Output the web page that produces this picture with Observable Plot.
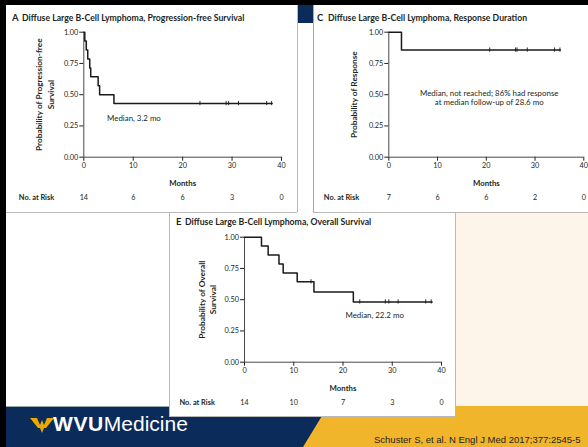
<!DOCTYPE html>
<html><head><meta charset="utf-8">
<script src="https://cdn.jsdelivr.net/npm/d3@7"></script>
<script src="https://cdn.jsdelivr.net/npm/@observablehq/plot@0.6"></script>
<style>
html,body{margin:0;padding:0;background:#fff;}
#page{position:relative;width:588px;height:447px;overflow:hidden;background:#fff;font-family:Lato,sans-serif;color:#231f20;}
.abs{position:absolute;}
.ttl{position:absolute;font-weight:700;font-size:8.7px;line-height:10px;white-space:nowrap;}
.ltr{position:absolute;font-weight:700;font-size:9.5px;line-height:10px;}
.plot{position:absolute;}
</style></head><body><div id="page"></div>
<script>
// ---- data ----
const monthTicks = [0, 10, 20, 30, 40];
const probTicks = [0, 0.25, 0.5, 0.75, 1];

// A: progression-free survival
const pfsTimes = [0, 0.2, 0.5, 0.8, 1.2, 1.4, 2.9, 3.2, 6.1, 38.1];
const pfsSurv  = [1, 0.929, 0.857, 0.786, 0.714, 0.643, 0.571, 0.5, 0.429, 0.429];
const pfsCensor = [23.5, 28.8, 29.3, 31.3, 37.0, 38.0];
const pfsRisk = [14, 6, 6, 3, 0];

// C: response duration
const respTimes = [0, 2.6, 35.2];
const respSurv  = [1, 0.857, 0.857];
const respCensor = [20.7, 26.0, 26.3, 28.4, 34.0, 35.1];
const respRisk = [7, 6, 6, 2, 0];

// E: overall survival
const osTimes = [0, 3.45, 4.8, 7.0, 7.85, 10.7, 14.1, 22.1, 38.1];
const osSurv  = [1, 0.929, 0.857, 0.786, 0.714, 0.643, 0.5625, 0.482, 0.482];
const osCensor = [13.5, 23.4, 28.6, 29.3, 31.2, 36.8, 37.9];
const osRisk = [14, 10, 7, 3, 0];

const titles = {
  A: "Diffuse Large B-Cell Lymphoma, Progression-free Survival",
  C: "Diffuse Large B-Cell Lymphoma, Response Duration",
  E: "Diffuse Large B-Cell Lymphoma, Overall Survival"
};
const yLabels = {
  A: "Probability of Progression-free\nSurvival",
  C: "Probability of Response",
  E: "Probability of Overall\nSurvival"
};
const notes = {
  A: {t: 4.7, s: 0.31, text: "Median, 3.2 mo", anchor: "start"},
  C: {t: 20.6, s: 0.474, text: "Median, not reached; 86% had response\nat median follow-up of 28.6 mo", anchor: "middle"},
  E: {t: 20.5, s: 0.374, text: "Median, 22.2 mo", anchor: "start"}
};
const xLabel = "Months";
const riskLabel = "No. at Risk";
const citation = "Schuster S, et al. N Engl J Med 2017;377:2545-5";

// ---- helpers ----
const page = document.getElementById("page");
function box(l, t, w, h, css) {
  const d = document.createElement("div");
  d.className = "abs";
  Object.assign(d.style, {left: l + "px", top: t + "px", width: w + "px", height: h + "px"}, css || {});
  page.appendChild(d);
  return d;
}
function label(cls, l, t, txt) {
  const d = document.createElement("div");
  d.className = cls;
  d.style.left = l + "px"; d.style.top = t + "px";
  d.textContent = txt;
  page.appendChild(d);
  return d;
}
function survAt(times, surv, t) {
  let s = surv[0];
  for (let i = 0; i < times.length; i++) if (times[i] <= t) s = surv[i];
  return s;
}

function kmPlot(key, times, surv, censor, risk, geo) {
  const curve = times.map((t, i) => ({t, s: surv[i]}));
  const cens = censor.map(t => ({t, s: survAt(times, surv, t)}));
  const riskRows = monthTicks.map((t, i) => ({t, n: String(risk[i])}));
  const note = notes[key];
  const p = Plot.plot({
    width: geo.w, height: geo.h,
    marginLeft: geo.ml, marginRight: geo.mr, marginTop: geo.mt, marginBottom: geo.mb,
    style: {fontFamily: "Lato, sans-serif", fontSize: "7.3px", color: "#231f20", background: "transparent", overflow: "hidden"},
    x: {domain: [0, 40], ticks: monthTicks, tickSize: 4, tickPadding: 2, label: null},
    y: {domain: [0, 1], ticks: probTicks, tickSize: 4, tickPadding: 1.5, tickFormat: d3.format(".2f"), label: null},
    marks: [
      Plot.ruleY([0], {x1: 0, x2: 40, stroke: "#333", strokeWidth: 0.9}),
      Plot.ruleX([0], {y1: 0, y2: 1, stroke: "#333", strokeWidth: 0.9}),
      Plot.line(curve, {x: "t", y: "s", curve: "step-after", stroke: "#1a1a1a", strokeWidth: 1.5}),
      Plot.ruleX(cens, {x: "t", y1: d => d.s - 0.017, y2: d => d.s + 0.017, stroke: "#1a1a1a", strokeWidth: 0.9}),
      Plot.text([note], {x: "t", y: "s", text: "text", textAnchor: note.anchor, fontSize: 7.9, lineHeight: 1.12, fill: "#231f20"}),
      Plot.text([yLabels[key]], {text: d => d, frameAnchor: "left", dx: geo.ydx, rotate: -90, textAnchor: "middle", lineAnchor: "middle", fontWeight: "bold", fontSize: 8.3, lineHeight: geo.ylh, fill: "#231f20"}),
      Plot.text([xLabel], {text: d => d, frameAnchor: "bottom", lineAnchor: "middle", dy: 26, fontWeight: "bold", fontSize: 7.8, fill: "#231f20"}),
      Plot.text([riskLabel], {text: d => d, frameAnchor: "bottom-left", lineAnchor: "middle", dx: -65, dy: 40.5, textAnchor: "start", fontWeight: "bold", fontSize: 7.4, fill: "#231f20"}),
      Plot.text(riskRows, {x: "t", text: "n", frameAnchor: "bottom", lineAnchor: "middle", dy: 40.5, fontSize: 7.2, fill: "#231f20"})
    ]
  });
  p.classList.add("plot");
  p.style.left = geo.l + "px";
  p.style.top = geo.t + "px";
  page.appendChild(p);
}

// ---- background / frame ----
box(0, 0, 588, 5, {background: "#000"});
box(0, 0, 6, 447, {background: "#000"});
box(297, 5, 16, 18, {background: "#0b2b5a"});
// panel borders
box(296.5, 5, 1, 207, {background: "#b8b8b8"});
box(6, 211.5, 291, 1, {background: "#b8b8b8"});
box(313, 5, 1.3, 207, {background: "#a8a8a8"});
box(313, 211.5, 275, 1, {background: "#b8b8b8"});
// peach area right of panel E
box(456, 212.5, 132, 194, {background: "#fdf4ea"});
// footer
box(6, 406, 582, 41, {background: "#0b2b5a", borderTop: "1px solid #9aa"});
box(0, 406, 588, 41, {background: "#f1b52b", clipPath: "polygon(328px 0, 588px 0, 588px 41px, 303px 41px)"});
// panel E (white card over footer)
box(169, 212.5, 287, 204, {background: "#fff", borderLeft: "1px solid #b8b8b8", borderRight: "1px solid #b8b8b8", borderBottom: "1px solid #b8b8b8", boxSizing: "border-box"});

// ---- plots ----
kmPlot("A", pfsTimes, pfsSurv, pfsCensor, pfsRisk, {l: 6, t: 5, w: 291, h: 207, ml: 77.3, mr: 16, mt: 26.7, mb: 55.3, ydx: -39.5, ylh: 1.4});
kmPlot("C", respTimes, respSurv, respCensor, respRisk, {l: 313, t: 5, w: 275, h: 207, ml: 75.3, mr: 4.7, mt: 26.7, mb: 55.3, ydx: -35, ylh: 1.3});
kmPlot("E", osTimes, osSurv, osCensor, osRisk, {l: 170, t: 212, w: 286, h: 204, ml: 74, mr: 15, mt: 24.7, mb: 54.3, ydx: -37.5, ylh: 1.25});

// ---- titles ----
label("ltr", 12, 13, "A");
label("ttl", 22, 13, titles.A);
label("ltr", 317, 13, "C");
label("ttl", 328, 13, titles.C);
label("ltr", 176, 217, "E");
label("ttl", 185, 217, titles.E);

// ---- footer logo + citation ----
const logo = document.createElementNS("http://www.w3.org/2000/svg", "svg");
logo.setAttribute("width", "24"); logo.setAttribute("height", "18");
logo.setAttribute("class", "abs");
logo.style.left = "30px"; logo.style.top = "416px";
logo.innerHTML = '<path d="M0 2 L7 2 L10 9 L12 4 L14 9 L17 2 L24 2 L16 12 L14 12 L12 17 L10 12 L8 12 Z" fill="#eaaa00"/>';
page.appendChild(logo);
const brand = document.createElement("div");
brand.className = "abs";
Object.assign(brand.style, {left: "53px", top: "412px", fontFamily: "'Liberation Sans', Arial, sans-serif", fontSize: "21px", lineHeight: "24px", color: "#fff", whiteSpace: "nowrap"});
brand.innerHTML = '<span style="font-weight:700;letter-spacing:0.6px">WVU</span><span>Medicine</span>';
page.appendChild(brand);
const cite = document.createElement("div");
cite.className = "abs";
Object.assign(cite.style, {left: "374px", top: "434px", fontFamily: "'Liberation Sans', Arial, sans-serif", fontSize: "9.5px", lineHeight: "11px", color: "#1e1e1e", whiteSpace: "nowrap"});
cite.textContent = citation;
page.appendChild(cite);
</script></body></html>
